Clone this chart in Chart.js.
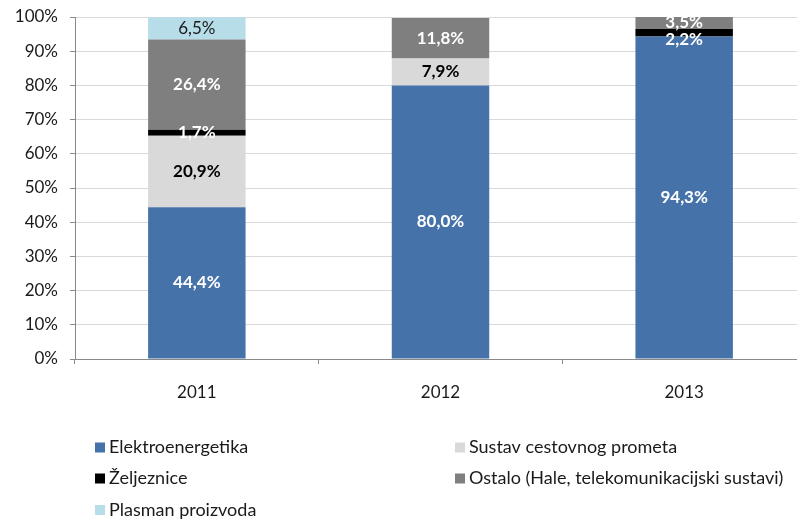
<!DOCTYPE html>
<html>
<head>
<meta charset="utf-8">
<script src="https://cdn.jsdelivr.net/npm/chart.js@4/dist/chart.umd.min.js"></script>
<style>
  html, body { margin: 0; padding: 0; background: #fff; overflow: hidden; }
  #wrap { position: relative; width: 810px; height: 520px; }
</style>
</head>
<body>
<div id="wrap"><canvas id="chart"></canvas></div>
<script>
const years = ["2011", "2012", "2013"];
const elektroenergetika = [44.4, 80.0, 94.3];
const cestovniPromet = [20.9, 7.9, null];
const zeljeznice = [1.7, null, 2.2];
const ostalo = [26.4, 11.8, 3.5];
const plasman = [6.5, null, null];
const yTicks = [0, 10, 20, 30, 40, 50, 60, 70, 80, 90, 100];

const FONT = "Lato, 'Open Sans', sans-serif";
const fmt = (v) => v.toFixed(1).replace(".", ",") + "%";

// value labels inside the bar segments
const segmentLabels = {
  id: "segmentLabels",
  afterDatasetsDraw(chart) {
    const ctx = chart.ctx;
    ctx.save();
    ctx.textAlign = "center";
    ctx.textBaseline = "middle";
    chart.data.datasets.forEach((ds, i) => {
      const meta = chart.getDatasetMeta(i);
      meta.data.forEach((bar, j) => {
        const v = ds.data[j];
        if (v == null) return;
        const shift = (ds.labelShift && ds.labelShift[j]) || 0;
        ctx.font = `${ds.labelWeight} 17px ${FONT}`;
        ctx.fillStyle = ds.labelColor;
        ctx.fillText(fmt(v), bar.x, (bar.y + bar.base) / 2 + shift);
      });
    });
    ctx.restore();
  }
};

// two-column legend under the axis
const gridLegend = {
  id: "gridLegend",
  afterDraw(chart) {
    const ctx = chart.ctx;
    const cols = [95, 455];
    const rows = [447.5, 478.5, 510];
    ctx.save();
    ctx.font = `18px ${FONT}`;
    ctx.textBaseline = "middle";
    ctx.textAlign = "left";
    chart.data.datasets.forEach((ds, i) => {
      const x = cols[i % 2];
      const y = rows[Math.floor(i / 2)];
      ctx.fillStyle = ds.backgroundColor;
      ctx.fillRect(x, y - 5, 10, 10);
      ctx.fillStyle = "#1a1a1a";
      ctx.fillText(ds.label, x + 14, y);
    });
    ctx.restore();
  }
};

new Chart(document.getElementById("chart"), {
  type: "bar",
  data: {
    labels: years,
    datasets: [
      { label: "Elektroenergetika", data: elektroenergetika, backgroundColor: "#4672AA", labelColor: "#fff", labelWeight: "bold" },
      { label: "Sustav cestovnog prometa", data: cestovniPromet, backgroundColor: "#D9D9D9", labelColor: "#000", labelWeight: "bold" },
      { label: "Željeznice", data: zeljeznice, backgroundColor: "#000000", labelColor: "#fff", labelWeight: "bold", labelShift: [0, 0, 7] },
      { label: "Ostalo (Hale, telekomunikacijski sustavi)", data: ostalo, backgroundColor: "#7F7F7F", labelColor: "#fff", labelWeight: "bold" },
      { label: "Plasman proizvoda", data: plasman, backgroundColor: "#B7DEE8", labelColor: "#1a1a1a", labelWeight: "normal" }
    ]
  },
  options: {
    responsive: true,
    maintainAspectRatio: false,
    animation: false,
    layout: { padding: { top: 17, right: 4, left: 0, bottom: 0 } },
    datasets: { bar: { categoryPercentage: 1, barPercentage: 0.4, borderWidth: 0 } },
    plugins: {
      legend: { display: false },
      tooltip: { enabled: false }
    },
    scales: {
      x: {
        stacked: true,
        afterFit: (scale) => { scale.height = 161; },
        border: { color: "#898989", width: 1 },
        grid: { drawOnChartArea: false, tickLength: 5, tickColor: "#898989", offset: true },
        ticks: { color: "#1a1a1a", padding: 18, font: { family: FONT, size: 17 } }
      },
      y: {
        stacked: true,
        min: 0,
        max: 100,
        afterFit: (scale) => {
          scale.width = 75;
          scale.paddingTop = 0;
          scale.paddingBottom = 0;
        },
        afterBuildTicks: (scale) => { scale.ticks = yTicks.map((v) => ({ value: v })); },
        border: { color: "#898989", width: 1 },
        grid: { color: "#D9D9D9", tickLength: 5, tickColor: "#898989" },
        ticks: {
          color: "#1a1a1a",
          padding: 12,
          font: { family: FONT, size: 17 },
          callback: (v) => v + "%"
        }
      }
    }
  },
  plugins: [segmentLabels, gridLegend]
});
</script>
</body>
</html>
